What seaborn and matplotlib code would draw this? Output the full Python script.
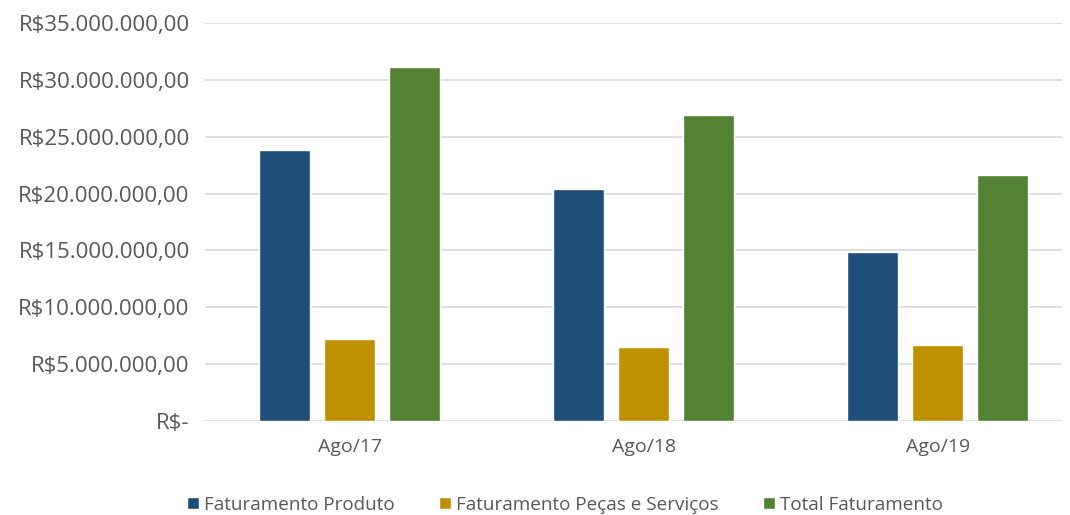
import pandas as pd
import matplotlib
matplotlib.use("Agg")
import matplotlib.pyplot as plt
import matplotlib.ticker as mticker
import seaborn as sns

# dados
periodos = ["Ago/17", "Ago/18", "Ago/19"]
series = ["Faturamento Produto", "Faturamento Peças e Serviços", "Total Faturamento"]
fat_produto = [23800000, 20380000, 14850000]
fat_pecas = [7200000, 6500000, 6650000]
fat_total = [31100000, 26950000, 21600000]
cores = ["#1F4E79", "#BF9000", "#548235"]

df = pd.DataFrame({
    "Periodo": periodos * 3,
    "Serie": [s for s in series for _ in periodos],
    "Valor": fat_produto + fat_pecas + fat_total,
})

sns.set_style("white")
plt.rcParams["font.family"] = ["Open Sans", "DejaVu Sans"]
texto = "#595959"

fig = plt.figure(figsize=(10.7, 5.15), dpi=100)
ax = fig.add_axes([0.1916, 0.1825, 0.8009, 0.7728])

sns.barplot(data=df, x="Periodo", y="Valor", hue="Serie", hue_order=series,
            palette=cores, width=0.663, gap=0.215, saturation=1, ax=ax,
            legend=True)

def reais(v, pos):
    if v == 0:
        return "R$-"
    s = f"{v:,.2f}"
    s = s.replace(",", "X").replace(".", ",").replace("X", ".")
    return "R$" + s

ax.set_ylim(0, 35000000)
ax.set_xlim(-0.493, 2.422)
ax.yaxis.set_major_locator(mticker.MultipleLocator(5000000))
ax.yaxis.set_major_formatter(mticker.FuncFormatter(reais))
ax.grid(axis="y", color="#D9D9D9", linewidth=1.2)
ax.set_axisbelow(True)
for sp in ax.spines.values():
    sp.set_visible(False)
ax.tick_params(axis="both", length=0, labelcolor=texto)
ax.tick_params(axis="y", pad=11, labelsize=16)
ax.tick_params(axis="x", pad=12, labelsize=14)
ax.set_xlabel("")
ax.set_ylabel("")

handles, labels = ax.get_legend_handles_labels()
ax.legend(handles, labels, loc="center", bbox_to_anchor=(0.42, -0.21),
          ncol=3, frameon=False, fontsize=13.6, labelcolor=texto,
          handlelength=0.65, handleheight=0.65, handletextpad=0.3,
          columnspacing=2.3)

fig.savefig("out.png", dpi=100)
